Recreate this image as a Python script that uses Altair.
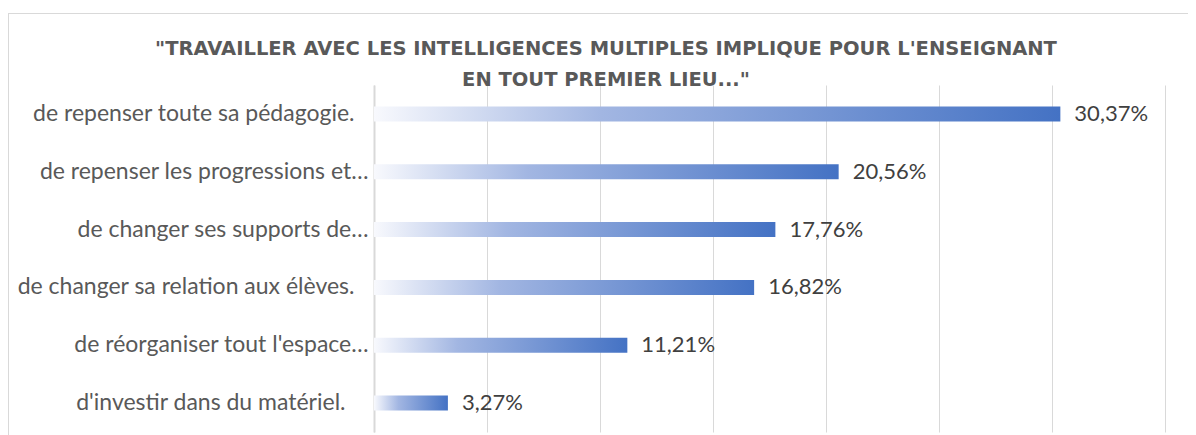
import altair as alt
import pandas as pd

categories = [
    "de repenser toute sa pédagogie.",
    "de repenser les progressions et…",
    "de changer ses supports de…",
    "de changer sa relation aux élèves.",
    "de réorganiser tout l'espace…",
    "d'investir dans du matériel.",
]
values = [30.37, 20.56, 17.76, 16.82, 11.21, 3.27]
value_labels = [f"{v:.2f}".replace(".", ",") + "%" for v in values]
grid_ticks = [0, 5, 10, 15, 20, 25, 30, 35]
title_lines = [
    "\"TRAVAILLER AVEC LES INTELLIGENCES MULTIPLES IMPLIQUE POUR L'ENSEIGNANT",
    "EN TOUT PREMIER LIEU...\"",
]

df = pd.DataFrame({"cat": categories, "val": values, "lab": value_labels})

gradient = alt.Gradient(
    gradient="linear",
    stops=[
        alt.GradientStop(color="#f8f9fd", offset=0),
        alt.GradientStop(color="#a2b6e2", offset=0.33),
        alt.GradientStop(color="#4472c4", offset=1),
    ],
    x1=0, x2=1, y1=0, y2=0,
)

label_padding = {
    "condition": [
        {"test": "indexof(datum.label, 'mat') >= 0", "value": 29},
        {"test": "indexof(datum.label, '…') < 0", "value": 20},
    ],
    "value": 6,
}

y_enc = alt.Y(
    "cat:N", sort=categories, title=None,
    axis=alt.Axis(
        labelFont="Lato", labelFontSize=23, labelColor="#595959",
        labelPadding=label_padding, ticks=False, domainColor="#d9d9d9",
        domainWidth=2, labelLimit=400, grid=False,
    ),
)
x_enc = alt.X(
    "val:Q", title=None, scale=alt.Scale(domain=[0, 35], nice=False),
    axis=alt.Axis(values=grid_ticks, labels=False, ticks=False, domain=False,
                  grid=True, gridColor="#d9d9d9", gridWidth=1),
)

base = alt.Chart(df)
bars = base.mark_bar(color=gradient, size=15).encode(x=x_enc, y=y_enc)
texts = base.mark_text(align="left", baseline="middle", dx=14, font="Lato",
                       fontSize=22, color="#404040").encode(
    x="val:Q", y=alt.Y("cat:N", sort=categories), text="lab:N")

frame_src = alt.Data(values=[{"k": 1}])
frame_left = alt.Chart(frame_src).mark_rule(color="#d9d9d9", strokeWidth=1).encode(
    x=alt.value(-365.5), y=alt.value(-72), y2=alt.value(400))
frame_top = alt.Chart(frame_src).mark_rule(color="#d9d9d9", strokeWidth=1).encode(
    x=alt.value(-366), x2=alt.value(900), y=alt.value(-71.5))

chart = alt.layer(frame_left, frame_top, bars, texts).properties(
    width=791, height=347,
    title=alt.TitleParams(
        text=title_lines, font="DejaVu Sans", fontSize=19.5, fontWeight="bold",
        color="#595959", anchor="middle", frame="bounds", offset=-78, dx=-35,
        lineHeight=31,
    ),
    autosize=alt.AutoSizeParams(type="none"),
    padding={"left": 366, "top": 77, "right": 23, "bottom": 3},
).configure(background="white").configure_view(stroke=None)

chart.save("out.html", embed_options={"renderer": "svg", "actions": False})
